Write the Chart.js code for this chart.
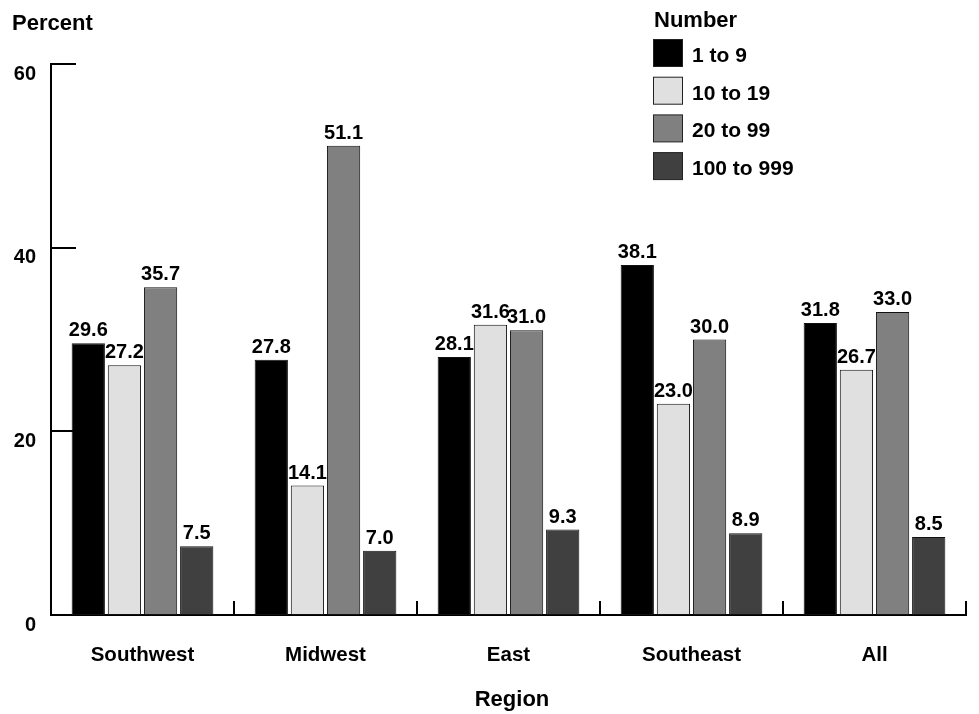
<!DOCTYPE html>
<html>
<head>
<meta charset="utf-8">
<script src="https://cdn.jsdelivr.net/npm/chart.js"></script>
<style>
  html, body { margin: 0; padding: 0; background: #fff; }
  canvas { display: block; }
</style>
</head>
<body>
<canvas id="regionChart" width="979" height="714"></canvas>
<script>
var regions = ["Southwest", "Midwest", "East", "Southeast", "All"];
var sizeBands = ["1 to 9", "10 to 19", "20 to 99", "100 to 999"];
var band1to9 = [29.6, 27.8, 28.1, 38.1, 31.8];
var band10to19 = [27.2, 14.1, 31.6, 23.0, 26.7];
var band20to99 = [35.7, 51.1, 31.0, 30.0, 33.0];
var band100to999 = [7.5, 7.0, 9.3, 8.9, 8.5];
var yTicks = [0, 20, 40, 60];

var bandColors = ["#000000", "#e0e0e0", "#808080", "#404040"];
var FONT = "'Liberation Sans', Arial, sans-serif";

// value above every bar
var valueLabels = {
  id: "valueLabels",
  afterDatasetsDraw: function(chart) {
    var ctx = chart.ctx;
    ctx.save();
    ctx.font = "bold 20px " + FONT;
    ctx.fillStyle = "#000";
    ctx.textAlign = "center";
    ctx.textBaseline = "alphabetic";
    chart.data.datasets.forEach(function(ds, i) {
      var meta = chart.getDatasetMeta(i);
      meta.data.forEach(function(bar, j) {
        ctx.fillText(ds.data[j].toFixed(1), bar.x, bar.y - 7);
      });
    });
    ctx.restore();
  }
};

// tick marks pointing into the plot, titles and legend
var decorations = {
  id: "decorations",
  afterDraw: function(chart) {
    var ctx = chart.ctx;
    var area = chart.chartArea;
    var ys = chart.scales.y;
    ctx.save();
    ctx.strokeStyle = "#000";
    ctx.lineWidth = 2;
    yTicks.forEach(function(v) {
      if (v === 0) return;
      var y = Math.round(ys.getPixelForValue(v));
      ctx.beginPath();
      ctx.moveTo(area.left, y);
      ctx.lineTo(area.left + 25, y);
      ctx.stroke();
    });
    var step = (area.right - area.left) / regions.length;
    for (var i = 1; i <= regions.length; i++) {
      var x = Math.round(area.left + step * i);
      ctx.beginPath();
      ctx.moveTo(x, area.bottom);
      ctx.lineTo(x, area.bottom - 14);
      ctx.stroke();
    }

    ctx.fillStyle = "#000";
    ctx.font = "bold 22px " + FONT;
    ctx.textAlign = "left";
    ctx.textBaseline = "alphabetic";
    ctx.fillText("Percent", 12, 30);
    ctx.textAlign = "center";
    ctx.fillText("Region", 512, 706);

    // legend
    ctx.textAlign = "left";
    ctx.fillText("Number", 654, 27);
    ctx.font = "bold 21px " + FONT;
    ctx.lineWidth = 1;
    chart.data.datasets.forEach(function(ds, i) {
      var top = 39 + i * 37.7;
      ctx.fillStyle = ds.backgroundColor;
      ctx.fillRect(653.5, top + 0.5, 29, 27);
      ctx.strokeStyle = "#222";
      ctx.strokeRect(653.5, top + 0.5, 29, 27);
      ctx.fillStyle = "#000";
      ctx.fillText(ds.label, 692, top + 23);
    });
    ctx.restore();
  }
};

var ctx = document.getElementById("regionChart").getContext("2d");
var regionChart = new Chart(ctx, {
  type: "bar",
  data: {
    labels: regions,
    datasets: [
      { label: sizeBands[0], data: band1to9, backgroundColor: bandColors[0] },
      { label: sizeBands[1], data: band10to19, backgroundColor: bandColors[1] },
      { label: sizeBands[2], data: band20to99, backgroundColor: bandColors[2] },
      { label: sizeBands[3], data: band100to999, backgroundColor: bandColors[3] }
    ].map(function(d) {
      d.borderColor = "#111";
      d.borderWidth = 1;
      d.borderSkipped = false;
      d.categoryPercentage = 0.79;
      d.barPercentage = 0.92;
      return d;
    })
  },
  options: {
    responsive: false,
    animation: false,
    devicePixelRatio: 1,
    layout: { padding: { top: 64, right: 13, left: 0, bottom: 0 } },
    plugins: {
      legend: { display: false },
      tooltip: { enabled: false }
    },
    scales: {
      x: {
        grid: { display: false, drawTicks: false },
        border: { display: true, color: "#000", width: 2 },
        ticks: { color: "#000", font: { family: FONT, size: 20.5, weight: "bold" }, padding: 28 },
        afterFit: function(scale) {
          scale.height = 99;
          scale.paddingLeft = 0;
          scale.paddingRight = 0;
        }
      },
      y: {
        min: 0,
        max: 60,
        grid: { display: false, drawTicks: false },
        border: { display: true, color: "#000", width: 2 },
        ticks: {
          stepSize: 20,
          color: "#000",
          padding: 15,
          labelOffset: 10,
          font: { family: FONT, size: 20, weight: "bold" }
        },
        afterFit: function(scale) {
          scale.width = 51;
          scale.paddingTop = 0;
          scale.paddingBottom = 0;
        }
      }
    }
  },
  plugins: [valueLabels, decorations]
});
</script>
</body>
</html>
